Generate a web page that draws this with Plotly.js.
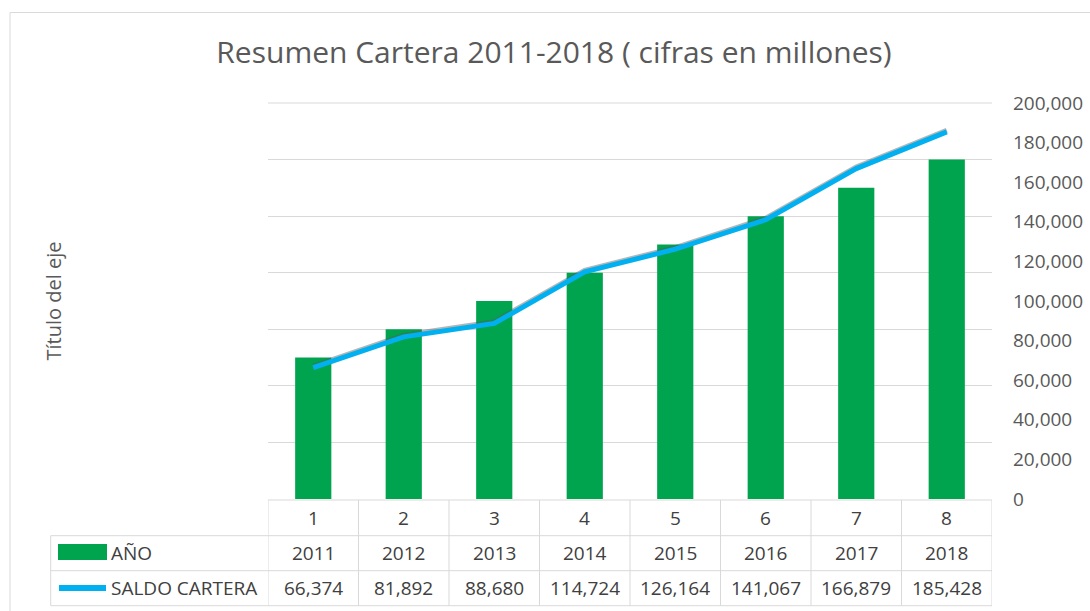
<!DOCTYPE html>
<html>
<head>
<meta charset="utf-8">
<script src="https://cdn.plot.ly/plotly-3.0.1.min.js"></script>
<style>html,body{margin:0;padding:0;background:#fff;}#chart{width:1090px;height:611px;}</style>
</head>
<body>
<div id="chart"></div>
<script>
// ---- data ----
const categories = [1, 2, 3, 4, 5, 6, 7, 8];
const anio = [2011, 2012, 2013, 2014, 2015, 2016, 2017, 2018];
const saldoCartera = [66374, 81892, 88680, 114724, 126164, 141067, 166879, 185428];
const seriesNames = ['AÑO', 'SALDO CARTERA'];
const titleText = 'Resumen Cartera 2011-2018 ( cifras en millones)';
const yTitleText = 'Título del eje';

// ---- styles ----
const FONT = 'Open Sans, sans-serif';
const GRID = '#d9d9d9';
const TXT = '#404040';
const AX = '#595959';
const GREEN = '#00a44e';
const BLUE = '#00b0f0';

// paper helpers (plot area: top 103px, bottom 499px, height 396px; left 268, width 724)
const pyPx = px => (499 - px) / 396;
const pxX = px => (px - 268) / 724;

const fmt = v => v.toLocaleString('en-US');

const traces = [
  {
    type: 'bar', x: categories, y: anio, name: seriesNames[0],
    marker: {color: GREEN}, yaxis: 'y', hoverinfo: 'x+y'
  },
  {
    type: 'scatter', mode: 'lines', x: categories, y: saldoCartera, name: 'shadow',
    line: {color: 'rgba(90,90,90,0.45)', width: 5}, yaxis: 'y2', hoverinfo: 'skip'
  },
  {
    type: 'scatter', mode: 'lines', x: categories, y: saldoCartera, name: seriesNames[1],
    line: {color: BLUE, width: 5}, yaxis: 'y3'
  }
];

const shapes = [];
const annotations = [];

// outer chart border
shapes.push({type: 'rect', xref: 'paper', yref: 'paper', x0: pxX(10), x1: pxX(1200), y0: pyPx(12.5), y1: pyPx(700),
  line: {color: GRID, width: 1}, fillcolor: 'rgba(0,0,0,0)', layer: 'below'});
// top gridline at the plot edge
shapes.push({type: 'line', xref: 'paper', yref: 'paper', x0: 0, x1: 1, y0: 1, y1: 1, line: {color: GRID, width: 1}, layer: 'below'});

// table lines
const rowTop = pyPx(500), row1 = pyPx(535.7), row2 = pyPx(570.7), rowBot = pyPx(605.7);
const tblLeft = pxX(50.7);
shapes.push({type: 'line', xref: 'paper', yref: 'paper', x0: 0, x1: 1, y0: rowTop, y1: rowTop, line: {color: GRID, width: 1}});
[row1, row2, rowBot].forEach(y => shapes.push({type: 'line', xref: 'paper', yref: 'paper', x0: tblLeft, x1: 1, y0: y, y1: y, line: {color: GRID, width: 1}}));
shapes.push({type: 'line', xref: 'paper', yref: 'paper', x0: tblLeft, x1: tblLeft, y0: row1, y1: rowBot, line: {color: GRID, width: 1}});
categories.forEach((c, i) => {
  shapes.push({type: 'line', xref: 'x', yref: 'paper', x0: c - 0.5, x1: c - 0.5, y0: rowTop, y1: rowBot, line: {color: GRID, width: 1}});
});
shapes.push({type: 'line', xref: 'x', yref: 'paper', x0: categories[categories.length - 1] + 0.5, x1: categories[categories.length - 1] + 0.5, y0: rowTop, y1: rowBot, line: {color: GRID, width: 1}});

// legend keys inside table
shapes.push({type: 'rect', xref: 'paper', yref: 'paper', x0: pxX(58), x1: pxX(107), y0: pyPx(560), y1: pyPx(544),
  fillcolor: GREEN, line: {width: 0}});
shapes.push({type: 'line', xref: 'paper', yref: 'paper', x0: pxX(59), x1: pxX(106), y0: pyPx(588), y1: pyPx(588),
  line: {color: BLUE, width: 6}});

const cellFont = {family: FONT, size: 19, color: TXT};
const yCat = pyPx(518), yRow1 = pyPx(553), yRow2 = pyPx(588);
categories.forEach((c, i) => {
  annotations.push({xref: 'x', yref: 'paper', x: c, y: yCat, text: String(c), showarrow: false, font: cellFont, xanchor: 'center', yanchor: 'middle'});
  annotations.push({xref: 'x', yref: 'paper', x: c, y: yRow1, text: String(anio[i]), showarrow: false, font: cellFont, xanchor: 'center', yanchor: 'middle'});
  annotations.push({xref: 'x', yref: 'paper', x: c, y: yRow2, text: fmt(saldoCartera[i]), showarrow: false, font: cellFont, xanchor: 'center', yanchor: 'middle'});
});
annotations.push({xref: 'paper', yref: 'paper', x: pxX(109), y: yRow1, text: seriesNames[0], showarrow: false, font: cellFont, xanchor: 'left', yanchor: 'middle'});
annotations.push({xref: 'paper', yref: 'paper', x: pxX(109), y: yRow2, text: seriesNames[1], showarrow: false, font: cellFont, xanchor: 'left', yanchor: 'middle'});

const layout = {
  width: 1090, height: 611,
  margin: {l: 268, r: 98, t: 103, b: 112},
  paper_bgcolor: '#fff', plot_bgcolor: '#fff',
  showlegend: false,
  bargap: 0.6,
  title: {text: titleText, font: {family: FONT, size: 30, color: AX},
    x: 554 / 1090, xref: 'container', xanchor: 'center', y: 1 - 52 / 611, yref: 'container', yanchor: 'middle'},
  xaxis: {range: [0.5, 8.5], showticklabels: false, showgrid: false, zeroline: false, showline: false, ticks: '', fixedrange: true},
  yaxis: {range: [2006, 2020], tick0: 2006, dtick: 2, showticklabels: false, showgrid: true, gridcolor: GRID, gridwidth: 1,
    zeroline: false, ticks: '',
    title: {text: yTitleText, font: {family: FONT, size: 20, color: AX}, standoff: 200}},
  yaxis2: {overlaying: 'y', side: 'right', range: [-800, 199200], visible: false, showgrid: false, zeroline: false},
  yaxis3: {overlaying: 'y', side: 'right', range: [0, 200000], tick0: 0, dtick: 20000, tickformat: ',',
    showgrid: false, zeroline: false, ticks: '', ticklabelstandoff: 20,
    tickfont: {family: FONT, size: 19, color: AX}},
  shapes: shapes,
  annotations: annotations
};

Plotly.newPlot('chart', traces, layout, {displayModeBar: false, staticPlot: true});
</script>
</body>
</html>
